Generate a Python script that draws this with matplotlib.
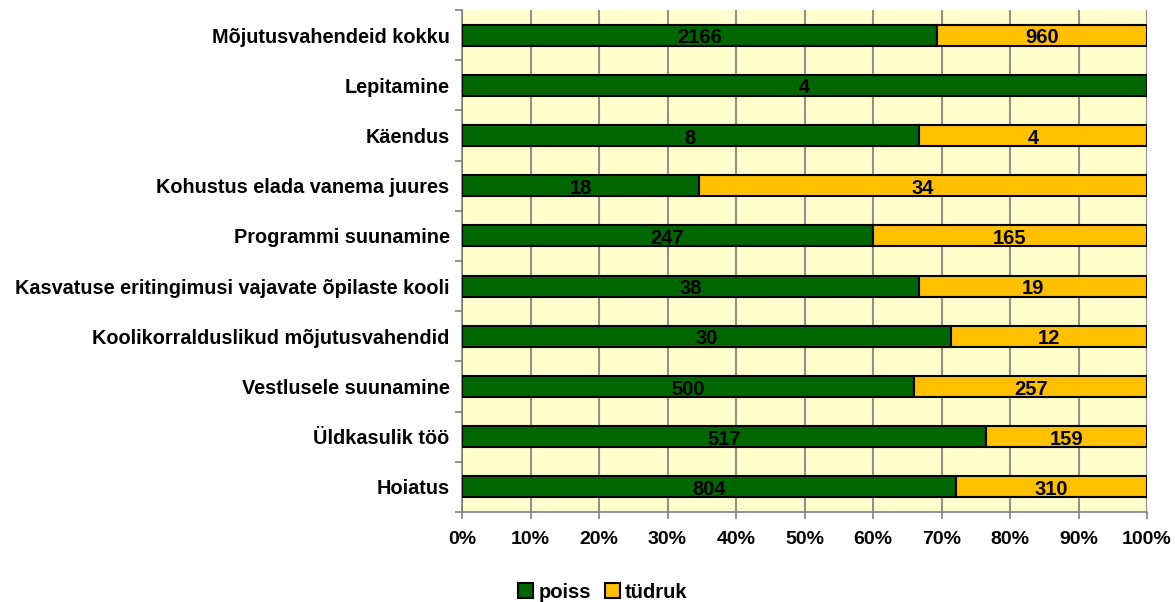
import matplotlib
matplotlib.use("Agg")
import matplotlib.pyplot as plt
import numpy as np
from matplotlib.ticker import FixedLocator, PercentFormatter

categories = ["Hoiatus", "Üldkasulik töö", "Vestlusele suunamine",
              "Koolikorralduslikud mõjutusvahendid",
              "Kasvatuse eritingimusi vajavate õpilaste kooli",
              "Programmi suunamine", "Kohustus elada vanema juures",
              "Käendus", "Lepitamine", "Mõjutusvahendeid kokku"]
poiss = [804, 517, 500, 30, 38, 247, 18, 8, 4, 2166]
tudruk = [310, 159, 257, 12, 19, 165, 34, 4, 0, 960]
series_names = ["poiss", "tüdruk"]
colors = ["#006600", "#FFC000"]

fam = ["Liberation Sans", "DejaVu Sans"]

fig = plt.figure(figsize=(11.75, 6.02), dpi=100)
ax = fig.add_axes([462/1175, 1 - 512/602, (1147-462)/1175, (512-10)/602])
ax.set_facecolor("#FFFFCC")

p = np.array(poiss, float)
t = np.array(tudruk, float)
tot = p + t
pp = p / tot
tp = t / tot
y = np.arange(len(categories))
h = 0.42
b1 = ax.barh(y, pp, height=h, color=colors[0], edgecolor="black", linewidth=1.5, label=series_names[0], zorder=3)
b2 = ax.barh(y, tp, left=pp, height=h, color=colors[1], edgecolor="black", linewidth=1.5, label=series_names[1], zorder=3)

for i in range(len(categories)):
    if p[i] > 0:
        ax.text(pp[i]/2, y[i] - 0.05, f"{int(p[i])}", ha="center", va="center",
                fontsize=14.5, fontweight="bold", family=fam, zorder=4)
    if t[i] > 0:
        ax.text(pp[i] + tp[i]/2, y[i] - 0.05, f"{int(t[i])}", ha="center", va="center",
                fontsize=14.5, fontweight="bold", family=fam, zorder=4)

ax.set_xlim(0, 1)
ax.set_ylim(-0.5, len(categories) - 0.5)
ax.set_xticks(np.linspace(0, 1, 11))
ax.xaxis.set_major_formatter(PercentFormatter(1.0, decimals=0))
ax.grid(axis="x", color="#909090", linewidth=1.5, zorder=1)
ax.set_yticks(y)
ax.set_yticklabels(categories)
ax.yaxis.set_minor_locator(FixedLocator(np.arange(-0.5, len(categories), 1)))
ax.tick_params(axis="y", which="major", length=0, pad=9)
ax.tick_params(axis="y", which="minor", length=5, color="#808080", width=1.2)
ax.tick_params(axis="x", length=5, color="#808080", width=1.2, pad=9)
for lab in ax.get_yticklabels():
    lab.set_fontfamily(fam)
    lab.set_fontweight("bold")
    lab.set_fontsize(14.3)
for lab in ax.get_xticklabels():
    lab.set_fontfamily(fam)
    lab.set_fontweight("bold")
    lab.set_fontsize(14)

for s in ["top", "right"]:
    ax.spines[s].set_visible(False)
ax.spines["left"].set_color("#808080")
ax.spines["bottom"].set_color("#808080")
ax.spines["left"].set_linewidth(1.2)
ax.spines["bottom"].set_linewidth(1.2)

leg = fig.legend(handles=[b1, b2], labels=series_names, loc="center",
                 bbox_to_anchor=(603/1175, 1 - 592/602), ncol=2, frameon=False,
                 prop={"family": fam, "weight": "bold", "size": 14.5},
                 handlelength=0.75, handleheight=0.75, handletextpad=0.25, columnspacing=0.7)

fig.savefig("out.png", dpi=100)
